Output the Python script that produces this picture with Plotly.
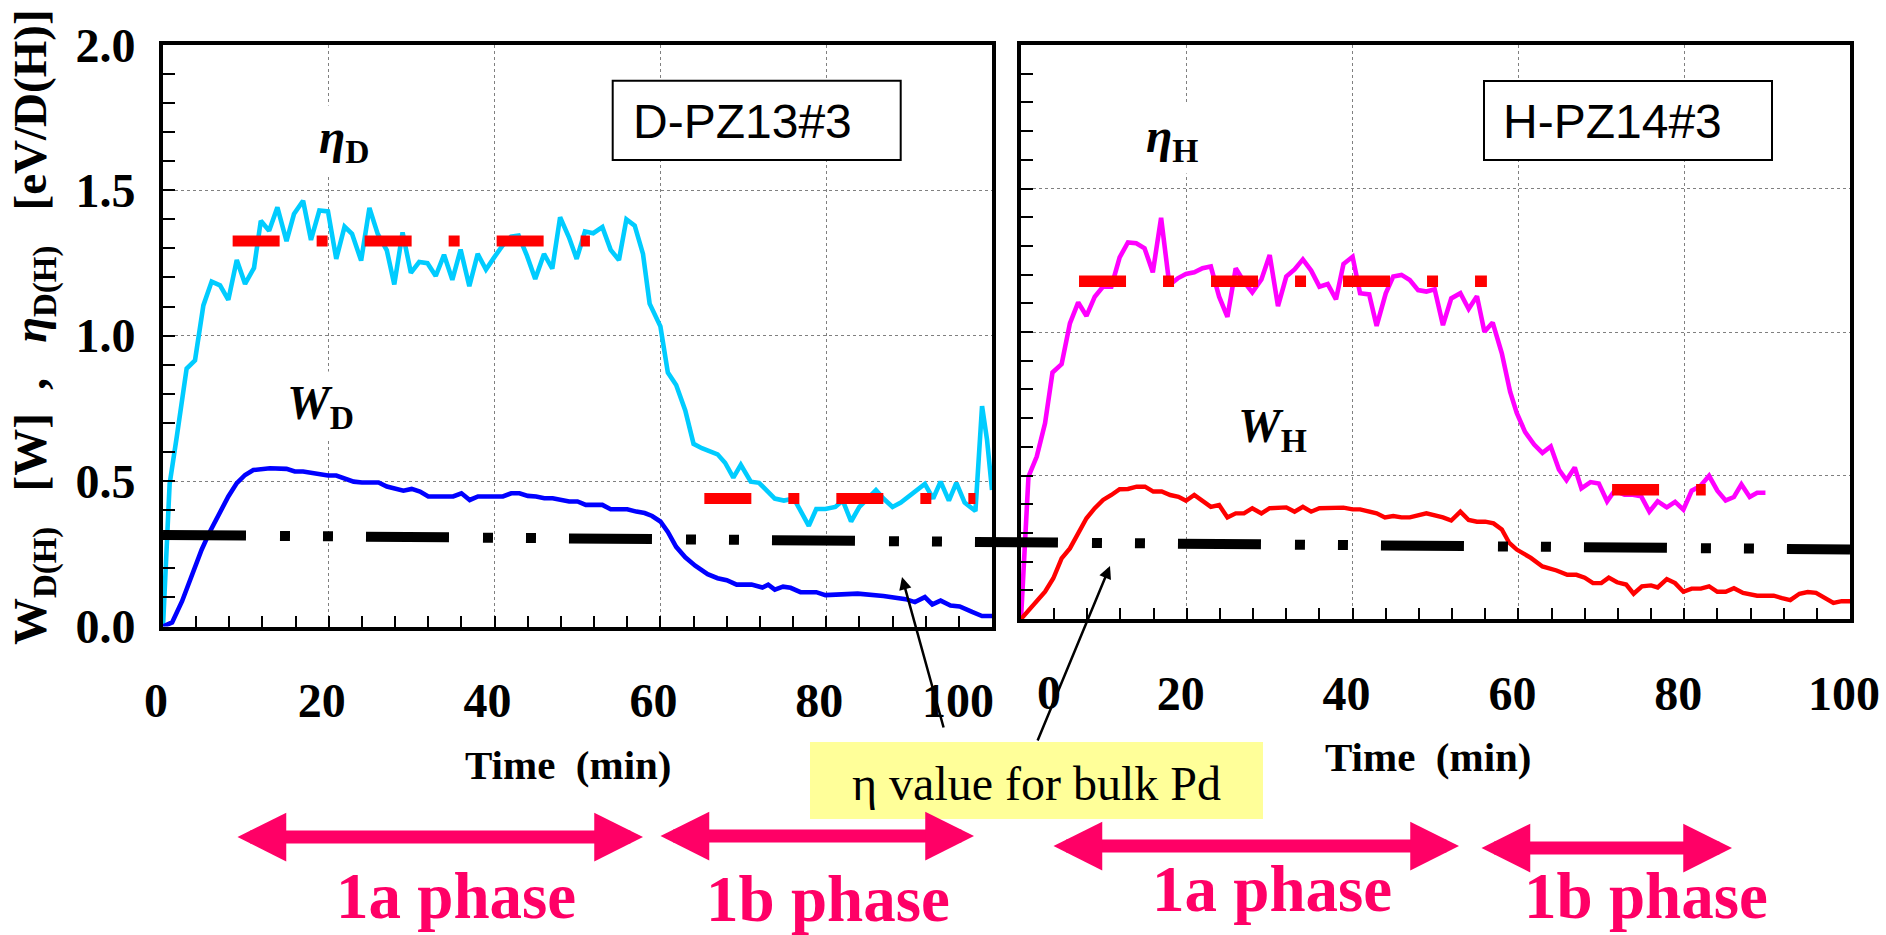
import plotly.graph_objects as go

W, H = 1886, 935


def fx(p):
    return p / W


def fy(p):
    return (H - p) / H


# ---------------- data ----------------
X_TICKS = [0, 20, 40, 60, 80, 100]
Y_TICKS = [0, 0.5, 1.0, 1.5, 2.0]
Y_TICK_TEXT = ["0.0", "0.5", "1.0", "1.5", "2.0"]

# left panel: eta_D (eV/D) and W_D (W) vs time (min)
ETA_D_T = [0, 0.8, 1.65, 2.85, 3.86, 4.87, 5.87, 6.88, 7.88, 8.9, 9.9, 10.98, 11.8, 12.8, 13.8,
           14.9, 15.8, 16.9, 17.85, 18.86, 19.9, 20.9, 21.9, 22.8, 23.9, 24.9, 25.9, 27, 27.9,
           28.9, 29.9, 30.9, 31.9, 32.9, 33.9, 34.9, 35.9, 36.95, 37.96, 38.96, 39.97, 40.97,
           41.98, 42.9, 43.9, 44.9, 45.96, 46.96, 47.9, 48.97, 49.9, 50.9, 51.9, 53, 54, 55,
           55.9, 56.9, 57.9, 58.7, 60, 60.9, 61.9, 63, 64, 65, 66.9, 67.8, 68.8, 69.7, 70.9,
           71.9, 73.8, 74.9, 76.1, 76.9, 77.9, 78.8, 79.9, 81.1, 82, 83, 84, 85, 86, 86.9, 88,
           89, 90, 90.9, 91.9, 92.9, 93.8, 94.8, 95.7, 96.7, 97.6, 98, 98.8, 99.4, 100]
ETA_D_V = [0, 0.49, 0.65, 0.887, 0.915, 1.104, 1.186, 1.173, 1.123, 1.26, 1.178, 1.233, 1.395,
           1.361, 1.441, 1.325, 1.418, 1.464, 1.329, 1.43, 1.427, 1.264, 1.375, 1.35, 1.258,
           1.439, 1.35, 1.293, 1.176, 1.355, 1.216, 1.253, 1.249, 1.205, 1.278, 1.192, 1.296,
           1.17, 1.281, 1.227, 1.27, 1.31, 1.34, 1.344, 1.275, 1.195, 1.281, 1.23, 1.407,
           1.338, 1.264, 1.358, 1.352, 1.373, 1.295, 1.26, 1.40, 1.378, 1.281, 1.11, 1.032,
           0.873, 0.83, 0.743, 0.628, 0.613, 0.592, 0.563, 0.512, 0.556, 0.498, 0.494, 0.44,
           0.433, 0.44, 0.397, 0.346, 0.404, 0.404, 0.411, 0.433, 0.361, 0.411, 0.44, 0.469,
           0.44, 0.411, 0.426, 0.447, 0.469, 0.49, 0.44, 0.498, 0.433, 0.494, 0.426, 0.404,
           0.397, 0.758, 0.642, 0.469]

W_D_T = [0, 1.1, 2.3, 3.6, 4.66, 5.67, 6.9, 7.88, 8.9, 9.9, 10.9, 12.9, 14.9, 15.9, 16.9, 17.9,
         18.9, 19.9, 20.9, 22, 23, 24, 26, 27, 28, 29, 30, 31, 32, 35, 36, 37, 38, 41, 42, 43,
         44, 45, 46, 47, 49, 50, 51, 53, 54, 56, 57.1, 58.1, 59, 60, 60.9, 61.9, 63, 64.2,
         65.7, 66.9, 68, 69.2, 71, 72.3, 73, 73.8, 74.8, 75.7, 76.9, 78.8, 79.9, 83.8, 86.9,
         89.6, 90.7, 91.9, 92.8, 93.8, 95, 96.1, 97.6, 98.8, 100]
W_D_V = [0, 0.014, 0.087, 0.19, 0.264, 0.327, 0.395, 0.447, 0.493, 0.521, 0.538, 0.544, 0.542,
         0.533, 0.533, 0.527, 0.525, 0.519, 0.519, 0.51, 0.498, 0.495, 0.495, 0.481, 0.473,
         0.467, 0.473, 0.464, 0.447, 0.447, 0.458, 0.435, 0.447, 0.447, 0.458, 0.458, 0.449,
         0.447, 0.441, 0.441, 0.43, 0.43, 0.418, 0.418, 0.403, 0.403, 0.395, 0.39, 0.38,
         0.361, 0.325, 0.274, 0.238, 0.209, 0.18, 0.166, 0.159, 0.144, 0.144, 0.134, 0.144,
         0.127, 0.137, 0.133, 0.118, 0.118, 0.108, 0.113, 0.105, 0.094, 0.084, 0.101, 0.076,
         0.089, 0.072, 0.069, 0.05, 0.036, 0.036]

# right panel: eta_H and W_H vs time (min)
ETA_H_T = [0, 0.9, 1.9, 2.9, 3.8, 4.9, 5.9, 6.9, 7.9, 8.9, 9.9, 10.9, 11.9, 12.9, 13.9, 14.9,
           15.9, 16.9, 17.9, 18.9, 19.9, 20.9, 21.9, 22.9, 23.9, 24.9, 25.9, 26.9, 27.9, 29,
           30, 31, 32, 33, 34, 35, 36, 37, 38, 38.9, 40, 40.9, 42, 42.9, 44, 44.9, 45.9, 46.9,
           47.9, 48.9, 49.9, 50.9, 51.9, 53, 54, 55, 55.9, 56.9, 58, 59, 59.8, 60.8, 61.9,
           62.9, 63.9, 64.9, 65.8, 66.8, 67.6, 68.7, 69.7, 70.7, 71.6, 72.8, 73.8, 74.8, 75.8,
           76.8, 77.9, 78.9, 79.9, 80.9, 81.9, 83, 84, 85, 86, 86.9, 87.9, 88.8, 89.8]
ETA_H_V = [0, 0.496, 0.566, 0.682, 0.859, 0.888, 1.03, 1.103, 1.056, 1.123, 1.158, 1.158, 1.26,
           1.312, 1.309, 1.292, 1.208, 1.398, 1.164, 1.187, 1.202, 1.208, 1.222, 1.228, 1.123,
           1.053, 1.222, 1.175, 1.138, 1.183, 1.268, 1.09, 1.193, 1.218, 1.253, 1.214, 1.158,
           1.167, 1.114, 1.237, 1.262, 1.135, 1.131, 1.021, 1.135, 1.193, 1.199, 1.181, 1.146,
           1.141, 1.149, 1.024, 1.117, 1.135, 1.08, 1.125, 1.001, 1.033, 0.926, 0.792, 0.718,
           0.652, 0.608, 0.579, 0.601, 0.52, 0.484, 0.528, 0.455, 0.477, 0.472, 0.41, 0.447,
           0.433, 0.433, 0.428, 0.374, 0.41, 0.389, 0.408, 0.381, 0.447, 0.462, 0.499, 0.447,
           0.413, 0.425, 0.469, 0.425, 0.44, 0.44]

W_H_T = [0, 0.9, 1.9, 2.9, 3.9, 4.9, 5.9, 6.9, 7.9, 8.9, 9.9, 10.9, 11.9, 12.9, 13.95, 14.96,
         15.96, 16.97, 18, 19, 19.9, 20.9, 21.9, 22.9, 23.9, 24.9, 25.9, 26.9, 27.9, 29, 30,
         32, 33, 34, 35, 36, 38.9, 40, 40.9, 42.9, 43.9, 44.9, 45.9, 46.9, 48.9, 50.9, 51.9,
         53, 54, 55, 56, 57, 58, 58.9, 59.8, 61.5, 62.9, 64.6, 65.9, 67, 68, 69, 70, 70.9,
         71.9, 73, 73.9, 74.9, 76, 76.8, 77.9, 78.9, 79.9, 80.9, 82, 83, 84, 85, 86, 87.1,
         88.8, 90.8, 91.8, 92.8, 93.9, 94.9, 95.9, 96.9, 98, 99, 100]
W_H_V = [0, 0.031, 0.064, 0.095, 0.142, 0.211, 0.246, 0.298, 0.351, 0.386, 0.415, 0.432, 0.452,
         0.453, 0.461, 0.461, 0.444, 0.444, 0.432, 0.426, 0.412, 0.432, 0.412, 0.391, 0.397,
         0.354, 0.368, 0.368, 0.386, 0.368, 0.386, 0.389, 0.374, 0.391, 0.374, 0.386, 0.388,
         0.382, 0.382, 0.368, 0.354, 0.359, 0.354, 0.354, 0.368, 0.354, 0.343, 0.374, 0.345,
         0.339, 0.339, 0.333, 0.312, 0.265, 0.242, 0.213, 0.183, 0.169, 0.154, 0.154, 0.144,
         0.125, 0.125, 0.144, 0.128, 0.12, 0.088, 0.114, 0.117, 0.11, 0.139, 0.125, 0.095,
         0.106, 0.106, 0.114, 0.095, 0.095, 0.107, 0.091, 0.081, 0.081, 0.073, 0.066, 0.088,
         0.094, 0.091, 0.076, 0.056, 0.062, 0.062]

# plateau (phase-average) eta values: [t_start, t_end], value
ETA_D_1A_T, ETA_D_1A = [8.4, 51.5], 1.325
ETA_D_1B_T, ETA_D_1B = [65.3, 98.0], 0.44
ETA_H_1A_T, ETA_H_1A = [7.0, 56.2], 1.177
ETA_H_1B_T, ETA_H_1B = [71.3, 82.6], 0.45

# eta value for bulk Pd (drawn across both panels, on a continuous time scale)
BULK_T = [0, 203.5]
BULK_V = [0.315, 0.265]

for a, b in [(ETA_D_T, ETA_D_V), (W_D_T, W_D_V), (ETA_H_T, ETA_H_V), (W_H_T, W_H_V)]:
    assert len(a) == len(b), (len(a), len(b))

# ---------------- styles ----------------
SERIF = "Liberation Serif"
SANS = "Liberation Sans"
PINK = "#FF0066"
CYAN = "#00CCFF"
BLUE = "#0000FF"
MAGENTA = "#FF00FF"
RED = "#FF0000"
AVG_DASH = "47px,37px,11px,37px"
BULK_DASH = "83px,34px,10px,33px,10px,33px"

L_X = [fx(163), fx(992)]
L_Y = [fy(626.5), fy(44.8)]
R_X = [fx(1021), fx(1850)]
R_Y = [fy(619), fy(45)]

fig = go.Figure()

fig.add_trace(go.Scatter(x=ETA_D_T, y=ETA_D_V, mode="lines", line=dict(color=CYAN, width=4.6),
                         xaxis="x", yaxis="y"))
fig.add_trace(go.Scatter(x=W_D_T, y=W_D_V, mode="lines", line=dict(color=BLUE, width=4.6),
                         xaxis="x", yaxis="y"))
for tt, vv in [(ETA_D_1A_T, ETA_D_1A), (ETA_D_1B_T, ETA_D_1B)]:
    fig.add_trace(go.Scatter(x=tt, y=[vv, vv], mode="lines",
                             line=dict(color=RED, width=11, dash=AVG_DASH), xaxis="x", yaxis="y"))

fig.add_trace(go.Scatter(x=ETA_H_T, y=ETA_H_V, mode="lines", line=dict(color=MAGENTA, width=4.6),
                         xaxis="x2", yaxis="y2"))
fig.add_trace(go.Scatter(x=W_H_T, y=W_H_V, mode="lines", line=dict(color=RED, width=4.4),
                         xaxis="x2", yaxis="y2"))
for tt, vv in [(ETA_H_1A_T, ETA_H_1A), (ETA_H_1B_T, ETA_H_1B)]:
    fig.add_trace(go.Scatter(x=tt, y=[vv, vv], mode="lines",
                             line=dict(color=RED, width=11.5, dash=AVG_DASH), xaxis="x2", yaxis="y2"))

fig.add_trace(go.Scatter(x=BULK_T, y=BULK_V, mode="lines",
                         line=dict(color="black", width=10, dash=BULK_DASH), xaxis="x3", yaxis="y3"))

tickfont = dict(family=SERIF, size=48, color="black", weight="bold")
common = dict(showline=True, linewidth=4, linecolor="black", mirror=True, zeroline=False,
              showgrid=True, gridcolor="#808080", griddash="dot", gridwidth=1, automargin=False,
              ticks="inside", ticklen=11, tickwidth=1.5, tickcolor="black", tickfont=tickfont)

x_left_text = [str(v) for v in X_TICKS]
x_left_text[-1] = ""          # drawn shifted (see annotations) to avoid the neighbour panel
x_right_text = [str(v) for v in X_TICKS]
x_right_text[0] = ""

fig.update_layout(
    width=W, height=H, margin=dict(l=0, r=0, t=0, b=0, autoexpand=False),
    paper_bgcolor="white", plot_bgcolor="rgba(0,0,0,0)", showlegend=False,
    xaxis=dict(domain=L_X, range=[0, 100], anchor="y", tickmode="array", tickvals=X_TICKS,
               ticktext=x_left_text, ticklabelstandoff=29, ticklabelshift=-7,
               minor=dict(dtick=4, tick0=0, ticks="inside", ticklen=11, tickwidth=1.5,
                          tickcolor="black", showgrid=False), **common),
    yaxis=dict(domain=L_Y, range=[0, 2], anchor="x", tickmode="array", tickvals=Y_TICKS,
               ticktext=Y_TICK_TEXT, ticklabelstandoff=14,
               minor=dict(dtick=0.1, tick0=0, ticks="inside", ticklen=12, tickwidth=1.5,
                          tickcolor="black", showgrid=False), **common),
    xaxis2=dict(domain=R_X, range=[0, 100], anchor="y2", tickmode="array", tickvals=X_TICKS,
                ticktext=x_right_text, ticklabelstandoff=29, ticklabelshift=-6,
                minor=dict(dtick=4, tick0=0, ticks="inside", ticklen=11, tickwidth=1.5,
                           tickcolor="black", showgrid=False), **common),
    yaxis2=dict(domain=R_Y, range=[0, 2], anchor="x2", tickmode="array", tickvals=Y_TICKS,
                showticklabels=False,
                minor=dict(dtick=0.1, tick0=0, ticks="inside", ticklen=12, tickwidth=1.5,
                           tickcolor="black", showgrid=False), **common),
    xaxis3=dict(domain=[fx(163), fx(1850)], range=BULK_T, anchor="y3", visible=False,
                automargin=False),
    yaxis3=dict(domain=L_Y, range=[0, 2], anchor="x3", visible=False, automargin=False),
)

# boxes
shapes = [
    dict(type="rect", xref="paper", yref="paper", x0=fx(612.7), x1=fx(900.7), y0=fy(160),
         y1=fy(80.7), line=dict(color="black", width=2), fillcolor="white", layer="above"),
    dict(type="rect", xref="paper", yref="paper", x0=fx(1484), x1=fx(1772), y0=fy(160),
         y1=fy(81), line=dict(color="black", width=2), fillcolor="white", layer="above"),
    dict(type="rect", xref="paper", yref="paper", x0=fx(810), x1=fx(1263), y0=fy(819),
         y1=fy(742), line=dict(width=0), fillcolor="#FFFF99", layer="above"),
]
fig.update_layout(shapes=shapes)

ann = []
NB = "\u00a0"


def text(x, y, s, size, family=SERIF, color="black", weight="normal", xanchor="center",
         bg=None, angle=0):
    d = dict(x=fx(x), y=fy(y), xref="paper", yref="paper", text=s, showarrow=False,
             xanchor=xanchor, yanchor="middle", textangle=angle,
             font=dict(family=family, size=size, color=color, weight=weight))
    if bg:
        d["bgcolor"] = bg
        d["borderpad"] = 4
    ann.append(d)


# the two crowded tick labels between the panels, nudged apart
ann.append(dict(x=X_TICKS[-1], xref="x", y=fy(700), yref="paper", text=str(X_TICKS[-1]),
                showarrow=False, xshift=-34, yanchor="middle", font=tickfont))
ann.append(dict(x=X_TICKS[0], xref="x2", y=fy(692), yref="paper", text=str(X_TICKS[0]),
                showarrow=False, xshift=28, yanchor="middle", font=tickfont))

# y-axis title
text(34, 327, "W<sub>D(H)</sub>" + NB * 3 + "[W]" + NB * 2 + "," + NB * 3 + "<i>η</i><sub>D(H)</sub>"
     + NB * 3 + "[eV/D(H)]", 47, weight="bold", angle=-90)
# x-axis titles
text(568, 765, "Time" + NB * 2 + "(min)", 41, weight="bold")
text(1428, 757, "Time" + NB * 2 + "(min)", 41, weight="bold")
# sample boxes text
text(631, 121.7, "D-PZ13#3", 48, family=SANS, xanchor="left")
text(1501, 121.7, "H-PZ14#3", 48, family=SANS, xanchor="left")
# curve labels
text(344, 140, "<i>η</i><sub>D</sub>", 48, weight="bold", bg="white")
text(320, 406, "<i>W</i><sub>D</sub>", 48, weight="bold", bg="white")
text(1172, 139.5, "<i>η</i><sub>H</sub>", 48, weight="bold", bg="white")
text(1272, 429, "<i>W</i><sub>H</sub>", 48, weight="bold", bg="white")

# pointer arrows to bulk line
for (hx, hy, tx, ty) in [(902, 577, 944, 729), (1110, 566, 1037, 742)]:
    ann.append(dict(x=fx(hx), y=fy(hy), xref="paper", yref="paper", text="", showarrow=True,
                    ax=tx - hx, ay=ty - hy, arrowhead=2, arrowsize=1, arrowwidth=2.5,
                    arrowcolor="black"))

# yellow box text
text(1036.7, 783, "η value for bulk Pd", 48)

# phase arrows (tip to tip)
for (x0, x1, yy) in [(236, 643, 837), (659, 974, 836), (1052, 1459, 846), (1480, 1732, 848)]:
    ann.append(dict(x=fx(x1), y=fy(yy), xref="paper", yref="paper", text="",
                    showarrow=True, ax=x0 - x1, ay=0, arrowhead=2,
                    startarrowhead=2, arrowside="end+start", arrowsize=0.75,
                    startarrowsize=0.75, arrowwidth=13, arrowcolor=PINK))

# phase labels
for (cx, cy, s) in [(456, 896, "1a phase"), (828, 899, "1b phase"), (1272, 889, "1a phase"),
                    (1646, 896, "1b phase")]:
    text(cx, cy, s, 65, color=PINK, weight="bold")

fig.update_layout(annotations=ann)

fig.write_html("out.html")
